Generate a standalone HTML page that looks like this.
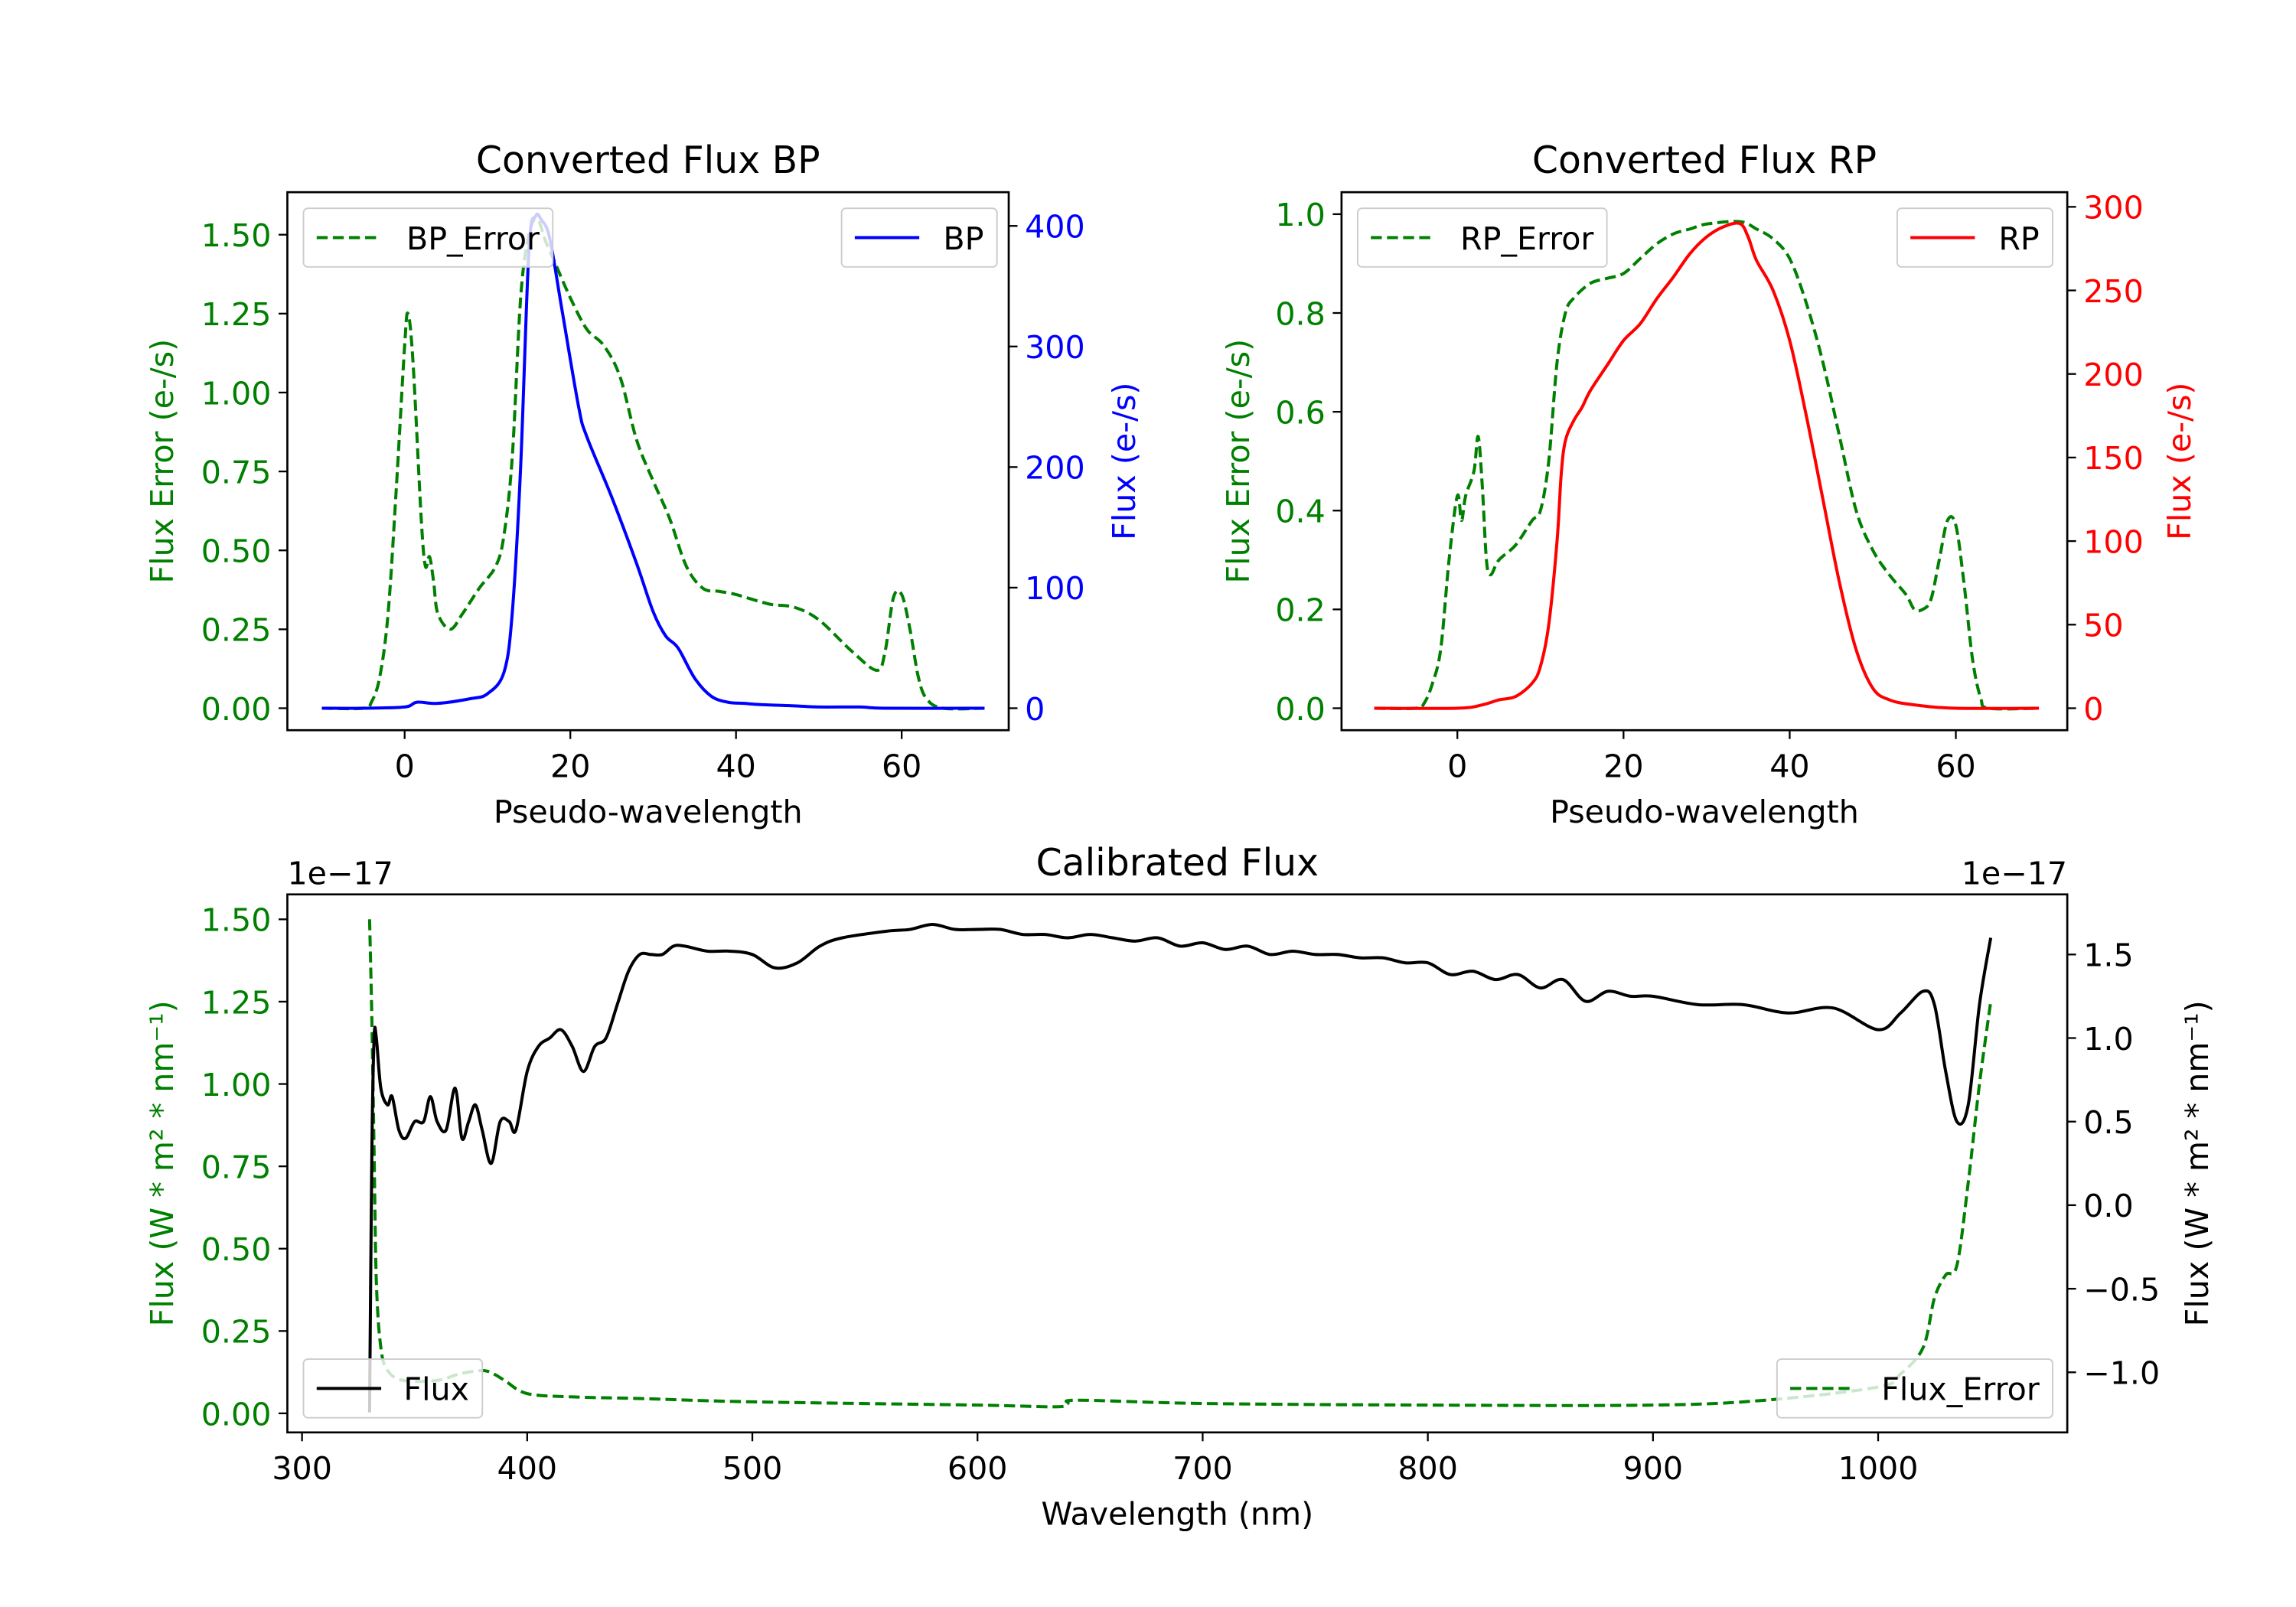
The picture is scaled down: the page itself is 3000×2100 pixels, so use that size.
<!DOCTYPE html>
<html><head><meta charset="utf-8">
<style>html,body{margin:0;padding:0;background:#fff}svg{display:block}text{font-family:"DejaVu Sans","Liberation Sans",sans-serif}</style>
</head><body>
<svg id="fig" width="3000" height="2100" viewBox="0 0 1566 1096" xmlns="http://www.w3.org/2000/svg"></svg>
<script>
// ---- BP panel data ----
const bpX=[-10,-5,0,1.5,4,8,10,12,13,14,15,15.8,16.5,17.5,19,21,22,25,28,30,31.5,33,35,37,39,41,43,47,50,55,58,70];
const bpFlux=[0,0,1,5,4,8,12,30,80,200,380,408,405,390,330,250,225,175,120,80,60,50,25,10,5,4,3,2,1,1,0,0];
const bpErrX=[-10,-5,-4,-3,-2,-1,0,0.4,1,2,2.5,3,3.5,4,5.5,7,9,11,12,13,14,15,16,17,18,20,22,24,26,28,30,32,34,36,38,40,44,47,50,54,57,58,59,60,61,62,63,65,70];
const bpErr=[0,0,0.02,0.1,0.3,0.7,1.15,1.25,1.1,0.6,0.45,0.48,0.4,0.3,0.25,0.3,0.38,0.45,0.55,0.8,1.3,1.5,1.55,1.48,1.42,1.3,1.2,1.15,1.05,0.85,0.72,0.6,0.45,0.38,0.37,0.36,0.33,0.32,0.28,0.18,0.12,0.18,0.35,0.36,0.25,0.1,0.03,0,0];
// ---- RP panel data ----
const rpX=[-10,0,3,5,7,9,10,11,12,12.5,13,14,15,16,18,20,22,24,26,28,30,32,34,35,36,38,40,42,44,46,48,50,52,55,60,70];
const rpFlux=[0,0,2,5,7,15,25,50,100,140,160,172,180,190,205,220,230,245,258,272,282,288,290,282,268,250,220,175,125,75,35,12,5,2,0,0];
const rpErrX=[-10,-5,-4,-3,-2,-1,0,0.5,1,2,2.5,3,3.5,4,5,7,9,10,11,12,13,14,16,18,20,22,24,26,28,30,34,36,38,40,42,44,46,48,50,52,54,55,56,57,58,59,60,61,62,63,64,70];
const rpErr=[0,0,0.01,0.05,0.12,0.3,0.43,0.38,0.43,0.48,0.55,0.45,0.3,0.27,0.3,0.33,0.38,0.4,0.5,0.7,0.8,0.83,0.86,0.87,0.88,0.91,0.94,0.96,0.97,0.98,0.985,0.97,0.95,0.91,0.82,0.7,0.55,0.4,0.32,0.27,0.23,0.2,0.2,0.22,0.3,0.38,0.37,0.25,0.1,0.02,0,0];
// ---- Calibrated panel data ----
const calX=[330,331,332,333,335,338,340,343,346,350,354,357,360,364,368,371,374,377,380,384,388,392,395,400,405,410,415,420,425,430,435,440,445,450,455,460,465,470,480,490,500,510,520,530,540,560,570,580,590,600,610,620,630,640,650,660,670,680,690,700,710,720,730,740,750,760,770,780,790,800,810,820,830,840,850,860,870,880,890,900,920,940,960,980,1000,1010,1020,1025,1030,1035,1040,1045,1050];
const calFlux=[-1.24,0.3,1.0,1.0,0.7,0.6,0.65,0.45,0.4,0.5,0.5,0.65,0.5,0.45,0.7,0.4,0.5,0.6,0.45,0.25,0.5,0.5,0.45,0.8,0.95,1.0,1.05,0.95,0.8,0.95,1.0,1.2,1.4,1.5,1.5,1.5,1.55,1.55,1.52,1.52,1.5,1.42,1.45,1.55,1.6,1.64,1.65,1.68,1.65,1.65,1.65,1.62,1.62,1.6,1.62,1.6,1.58,1.6,1.55,1.57,1.53,1.55,1.5,1.52,1.5,1.5,1.48,1.48,1.45,1.45,1.38,1.4,1.35,1.38,1.3,1.35,1.22,1.28,1.25,1.25,1.2,1.2,1.15,1.18,1.05,1.15,1.28,1.2,0.8,0.5,0.6,1.2,1.6];
const calErrX=[330,331,332,333,335,338,345,360,370,380,385,390,400,420,450,500,600,635,640,645,700,800,900,950,1000,1010,1020,1025,1030,1035,1040,1045,1050];
const calErr=[1.5,1.2,0.8,0.4,0.2,0.13,0.1,0.1,0.12,0.13,0.12,0.1,0.06,0.05,0.045,0.035,0.025,0.02,0.03,0.04,0.03,0.025,0.025,0.04,0.08,0.12,0.2,0.35,0.42,0.45,0.7,1.0,1.25];
// tick labels
const bpXTicks=[0,20,40,60], bpLTicks=[0,0.25,0.5,0.75,1.0,1.25,1.5], bpRTicks=[0,100,200,300,400];
const rpXTicks=[0,20,40,60], rpLTicks=[0,0.2,0.4,0.6,0.8,1.0], rpRTicks=[0,50,100,150,200,250,300];
const calXTicks=[300,400,500,600,700,800,900,1000], calLTicks=[0,0.25,0.5,0.75,1.0,1.25,1.5], calRTicks=[-1.0,-0.5,0,0.5,1.0,1.5];

const NS='http://www.w3.org/2000/svg', svg=document.getElementById('fig');
const FS=21.5;
function el(tag,attrs,parent,txt){const e=document.createElementNS(NS,tag);for(const k in attrs)e.setAttribute(k,attrs[k]);if(txt!==undefined)e.textContent=txt;(parent||svg).appendChild(e);return e;}
function lin(d0,d1,p0,p1){return v=>p0+(v-d0)*(p1-p0)/(d1-d0);}
function smooth(pts){let d='M'+pts[0][0].toFixed(2)+','+pts[0][1].toFixed(2);for(let i=0;i<pts.length-1;i++){const p0=pts[Math.max(i-1,0)],p1=pts[i],p2=pts[i+1],p3=pts[Math.min(i+2,pts.length-1)];const c1=[p1[0]+(p2[0]-p0[0])/6,p1[1]+(p2[1]-p0[1])/6],c2=[p2[0]-(p3[0]-p1[0])/6,p2[1]-(p3[1]-p1[1])/6];d+='C'+c1.map(v=>v.toFixed(2))+' '+c2.map(v=>v.toFixed(2))+' '+p2.map(v=>v.toFixed(2));}return d;}
function fmt(v,dec){return (v<0?'\u2212':'')+Math.abs(v).toFixed(dec);}
function series(g,xs,ys,sx,sy,color,dash,name){
  const p=el('path',{d:smooth(xs.map((x,i)=>[sx(x),sy(ys[i])])),fill:'none',stroke:color,'stroke-width':2.1,'stroke-dasharray':dash?'7.5,3.5':'none','stroke-linejoin':'round'},g);
  
  
}
function legend(g,x,y,w,label,color,dash,name){
  const lg=el('g',{},g);
  
  
  el('rect',{x:x,y:y,width:w,height:40,rx:3,fill:'rgba(255,255,255,0.8)',stroke:'#ccc','stroke-width':1},lg);
  el('line',{x1:x+9,y1:y+20,x2:x+53,y2:y+20,stroke:color,'stroke-width':2.1,'stroke-dasharray':dash?'7.5,3.5':'none'},lg);
  el('text',{x:x+w-9,y:y+28,'font-size':FS,'text-anchor':'end',fill:'#000'},lg,label);
}
function panel(o){
  const g=el('g',{});
  
  
  const sx=lin(o.xd[0],o.xd[1],o.xp[0],o.xp[1]), sl=lin(o.ld[0],o.ld[1],o.lp[0],o.lp[1]), sr=lin(o.rd[0],o.rd[1],o.rp[0],o.rp[1]);
  const B=o.box;
  o.xt.forEach(t=>{el('line',{x1:sx(t),y1:B.b,x2:sx(t),y2:B.b+6,stroke:'#000','stroke-width':1.2},g);el('text',{x:sx(t),y:B.b+32,'font-size':FS,'text-anchor':'middle'},g,String(t));});
  o.lt.forEach(t=>{el('line',{x1:B.l-6,y1:sl(t),x2:B.l,y2:sl(t),stroke:'#000','stroke-width':1.2},g);el('text',{x:B.l-11,y:sl(t)+8,'font-size':FS,'text-anchor':'end',fill:o.lc},g,fmt(t,o.ldec));});
  o.rt.forEach(t=>{el('line',{x1:B.r,y1:sr(t),x2:B.r+6,y2:sr(t),stroke:'#000','stroke-width':1.2},g);el('text',{x:B.r+11,y:sr(t)+8,'font-size':FS,'text-anchor':'start',fill:o.rc},g,fmt(t,o.rdec));});
  series(g,o.ex,o.ey,sx,sl,'green',true,o.name+'-error-line');
  series(g,o.fx,o.fy,sx,sr,o.fc,false,o.name+'-flux-line');
  el('rect',{x:B.l,y:B.t,width:B.r-B.l,height:B.b-B.t,fill:'none',stroke:'#000','stroke-width':1.4},g);
  el('text',{x:(B.l+B.r)/2,y:B.t-13,'font-size':25.5,'text-anchor':'middle'},g,o.title);
  el('text',{x:(B.l+B.r)/2,y:B.b+63,'font-size':FS,'text-anchor':'middle'},g,o.xlabel);
  el('text',{transform:`translate(${o.llx},${(B.t+B.b)/2}) rotate(-90)`,'font-size':FS,'text-anchor':'middle',fill:o.lc},g,o.llabel);
  el('text',{transform:`translate(${o.rlx},${(B.t+B.b)/2}) rotate(-90)`,'font-size':FS,'text-anchor':'middle',fill:o.rc},g,o.rlabel);
  o.legends(g);
  return g;
}
panel({name:'bp-panel',box:{l:196,r:688,t:131,b:498},xd:[0,60],xp:[276,615],ld:[0,1.5],lp:[483,160],rd:[0,400],rp:[483,154],
 xt:bpXTicks,lt:bpLTicks,rt:bpRTicks,ldec:2,rdec:0,lc:'green',rc:'blue',fc:'blue',ex:bpErrX,ey:bpErr,fx:bpX,fy:bpFlux,
 title:'Converted Flux BP',xlabel:'Pseudo-wavelength',llabel:'Flux Error (e-/s)',rlabel:'Flux (e-/s)',llx:118,rlx:774,
 legends:g=>{legend(g,207,142,170,'BP_Error','green',true,'bp-error-legend');legend(g,574,142,106,'BP','blue',false,'bp-legend');}});
panel({name:'rp-panel',box:{l:915,r:1410,t:131,b:498},xd:[0,60],xp:[994,1334],ld:[0,1.0],lp:[483,146],rd:[0,300],rp:[483,141],
 xt:rpXTicks,lt:rpLTicks,rt:rpRTicks,ldec:1,rdec:0,lc:'green',rc:'red',fc:'red',ex:rpErrX,ey:rpErr,fx:rpX,fy:rpFlux,
 title:'Converted Flux RP',xlabel:'Pseudo-wavelength',llabel:'Flux Error (e-/s)',rlabel:'Flux (e-/s)',llx:852,rlx:1494,
 legends:g=>{legend(g,926,142,170,'RP_Error','green',true,'rp-error-legend');legend(g,1294,142,106,'RP','red',false,'rp-legend');}});
const cp=panel({name:'calibrated-panel',box:{l:196,r:1410,t:610,b:977},xd:[300,1000],xp:[206,1281],ld:[0,1.5],lp:[964,627],rd:[0,1.5],rp:[822,651],
 xt:calXTicks,lt:calLTicks,rt:calRTicks,ldec:2,rdec:1,lc:'green',rc:'#000',fc:'#000',ex:calErrX,ey:calErr,fx:calX,fy:calFlux,
 title:'Calibrated Flux',xlabel:'Wavelength (nm)',llabel:'Flux (W * m² * nm⁻¹)',rlabel:'Flux (W * m² * nm⁻¹)',llx:118,rlx:1506,
 legends:g=>{legend(g,207,927,122,'Flux','#000',false,'flux-legend');legend(g,1212,927,188,'Flux_Error','green',true,'flux-error-legend');}});
el('text',{x:196,y:603,'font-size':FS},cp,'1e\u221217');
el('text',{x:1410,y:603,'font-size':FS,'text-anchor':'end'},cp,'1e\u221217');
</script>
</body></html>
